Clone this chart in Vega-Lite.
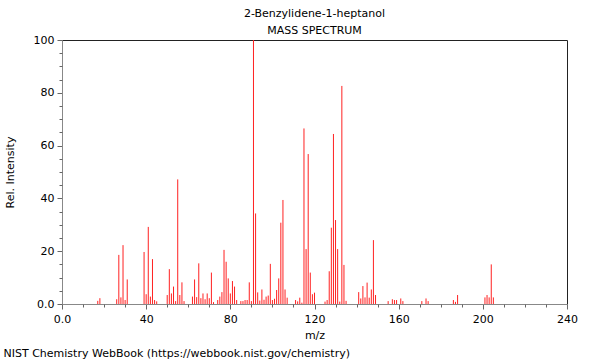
{
  "$schema": "https://vega.github.io/schema/vega-lite/v6.json",
  "width": 505,
  "height": 264,
  "autosize": "none",
  "padding": {"left": 62, "top": 40, "right": 33, "bottom": 56},
  "config": {"font": "DejaVu Sans", "view": {"stroke": "#222", "strokeWidth": 1}},
  "title": {"text": ["2-Benzylidene-1-heptanol", "MASS SPECTRUM"], "fontSize": 11, "fontWeight": "normal", "font": "DejaVu Sans", "lineHeight": 17, "offset": -2, "anchor": "middle", "color": "black"},
  "data": {"values": [
    {"mz": 17, "intensity": 1.2}, {"mz": 18, "intensity": 2.2}, {"mz": 26, "intensity": 1.8}, {"mz": 27, "intensity": 18.6},
    {"mz": 28, "intensity": 2.5}, {"mz": 29, "intensity": 22.3}, {"mz": 30, "intensity": 1.5}, {"mz": 31, "intensity": 9.3},
    {"mz": 39, "intensity": 19.7}, {"mz": 40, "intensity": 3.7}, {"mz": 41, "intensity": 29.2}, {"mz": 42, "intensity": 2.8},
    {"mz": 43, "intensity": 17.0}, {"mz": 44, "intensity": 1.5}, {"mz": 45, "intensity": 1.0}, {"mz": 50, "intensity": 3.4},
    {"mz": 51, "intensity": 13.2}, {"mz": 52, "intensity": 4.0}, {"mz": 53, "intensity": 6.6}, {"mz": 54, "intensity": 1.1},
    {"mz": 55, "intensity": 47.2}, {"mz": 56, "intensity": 3.4}, {"mz": 57, "intensity": 8.2}, {"mz": 58, "intensity": 1.1},
    {"mz": 62, "intensity": 2.8}, {"mz": 63, "intensity": 9.3}, {"mz": 64, "intensity": 2.6}, {"mz": 65, "intensity": 15.4},
    {"mz": 66, "intensity": 2.2}, {"mz": 67, "intensity": 4.0}, {"mz": 68, "intensity": 1.8}, {"mz": 69, "intensity": 4.0},
    {"mz": 70, "intensity": 2.2}, {"mz": 71, "intensity": 11.9}, {"mz": 72, "intensity": 0.7}, {"mz": 74, "intensity": 1.5},
    {"mz": 75, "intensity": 2.8}, {"mz": 76, "intensity": 4.5}, {"mz": 77, "intensity": 20.5}, {"mz": 78, "intensity": 16.0},
    {"mz": 79, "intensity": 9.7}, {"mz": 80, "intensity": 4.0}, {"mz": 81, "intensity": 8.7}, {"mz": 82, "intensity": 6.6},
    {"mz": 83, "intensity": 1.5}, {"mz": 85, "intensity": 1.1}, {"mz": 86, "intensity": 1.1}, {"mz": 87, "intensity": 1.5},
    {"mz": 88, "intensity": 1.5}, {"mz": 89, "intensity": 8.2}, {"mz": 90, "intensity": 1.1}, {"mz": 91, "intensity": 100},
    {"mz": 92, "intensity": 34.3}, {"mz": 93, "intensity": 4.4}, {"mz": 94, "intensity": 1.3}, {"mz": 95, "intensity": 5.5},
    {"mz": 96, "intensity": 1.6}, {"mz": 97, "intensity": 2.8}, {"mz": 98, "intensity": 3.2}, {"mz": 99, "intensity": 15.2},
    {"mz": 100, "intensity": 1.5}, {"mz": 101, "intensity": 2.0}, {"mz": 102, "intensity": 5.3}, {"mz": 103, "intensity": 9.7},
    {"mz": 104, "intensity": 30.8}, {"mz": 105, "intensity": 39.4}, {"mz": 106, "intensity": 5.5}, {"mz": 107, "intensity": 2.4},
    {"mz": 111, "intensity": 1.5}, {"mz": 112, "intensity": 1.0}, {"mz": 113, "intensity": 2.4}, {"mz": 114, "intensity": 0.5},
    {"mz": 115, "intensity": 66.5}, {"mz": 116, "intensity": 20.8}, {"mz": 117, "intensity": 56.8}, {"mz": 118, "intensity": 11.9},
    {"mz": 119, "intensity": 3.7}, {"mz": 120, "intensity": 4.3}, {"mz": 125, "intensity": 0.9}, {"mz": 126, "intensity": 1.5},
    {"mz": 127, "intensity": 12.4}, {"mz": 128, "intensity": 28.9}, {"mz": 129, "intensity": 64.4}, {"mz": 130, "intensity": 31.8},
    {"mz": 131, "intensity": 20.8}, {"mz": 132, "intensity": 0.9}, {"mz": 133, "intensity": 82.6}, {"mz": 134, "intensity": 14.8},
    {"mz": 135, "intensity": 1.2}, {"mz": 141, "intensity": 4.5}, {"mz": 142, "intensity": 2.1}, {"mz": 143, "intensity": 6.8},
    {"mz": 144, "intensity": 2.5}, {"mz": 145, "intensity": 8.1}, {"mz": 146, "intensity": 2.4}, {"mz": 147, "intensity": 5.5},
    {"mz": 148, "intensity": 24.2}, {"mz": 149, "intensity": 3.4}, {"mz": 155, "intensity": 1.1}, {"mz": 157, "intensity": 1.8},
    {"mz": 158, "intensity": 1.5}, {"mz": 159, "intensity": 1.5}, {"mz": 161, "intensity": 2.1}, {"mz": 162, "intensity": 1.1},
    {"mz": 171, "intensity": 1.1}, {"mz": 173, "intensity": 2.1}, {"mz": 174, "intensity": 1.1}, {"mz": 186, "intensity": 1.5},
    {"mz": 187, "intensity": 0.8}, {"mz": 188, "intensity": 3.4}, {"mz": 201, "intensity": 2.5}, {"mz": 202, "intensity": 3.4},
    {"mz": 203, "intensity": 2.5}, {"mz": 204, "intensity": 15.0}, {"mz": 205, "intensity": 2.5}
  ]},
  "layer": [
    {
      "mark": {"type": "rule", "color": "#ff2020", "strokeWidth": 1},
      "encoding": {
        "x": {"field": "mz", "type": "quantitative",
          "scale": {"domain": [0, 240], "nice": false, "zero": true},
          "axis": {"orient": "bottom", "values": [0, 40, 80, 120, 160, 200, 240], "format": "d",
            "labelExpr": "datum.value == 0 ? '0.0' : datum.label",
            "title": "m/z", "grid": false, "tickSize": 5, "labelFontSize": 11, "titleFontSize": 11,
            "titleFontWeight": "normal", "labelColor": "black", "titleColor": "black",
            "domainColor": "#888", "tickColor": "#666", "labelPadding": 4, "titlePadding": 5, "labelFlush": false}},
        "y": {"field": "intensity", "type": "quantitative",
          "scale": {"domain": [0, 100], "nice": false},
          "axis": {"orient": "left", "values": [0, 20, 40, 60, 80, 100], "format": "d",
            "labelExpr": "datum.value == 0 ? '0.0' : datum.label",
            "title": "Rel. Intensity", "grid": false, "tickSize": 5, "labelFontSize": 11, "titleFontSize": 11,
            "titleFontWeight": "normal", "labelColor": "black", "titleColor": "black",
            "domainColor": "#888", "tickColor": "#666", "labelPadding": 3, "titlePadding": 18, "labelFlush": false}},
        "y2": {"datum": 0}
      }
    },
    {
      "transform": [{"filter": "false"}],
      "mark": {"type": "rule", "opacity": 0, "strokeOpacity": 0},
      "encoding": {
        "x": {"field": "mz", "type": "quantitative",
          "axis": {"orient": "bottom", "values": [10, 20, 30, 50, 60, 70, 90, 100, 110, 130, 140, 150, 170, 180, 190, 210, 220, 230],
            "labels": false, "domain": false, "grid": false, "tickSize": 3, "tickColor": "#666",
            "title": "NIST Chemistry WebBook (https://webbook.nist.gov/chemistry)",
            "titleFontSize": 11, "titleFontWeight": "normal", "titleColor": "black",
            "titleX": -59, "titleY": 49, "titleAlign": "left", "titleBaseline": "middle", "titleAnchor": "start"}},
        "y": {"field": "intensity", "type": "quantitative",
          "axis": {"orient": "left", "values": [5, 10, 15, 25, 30, 35, 45, 50, 55, 65, 70, 75, 85, 90, 95],
            "labels": false, "domain": false, "grid": false, "tickSize": 3, "tickColor": "#666", "title": null}},
        "y2": {"datum": 0}
      }
    }
  ],
  "resolve": {"axis": {"x": "independent", "y": "independent"}}
}
